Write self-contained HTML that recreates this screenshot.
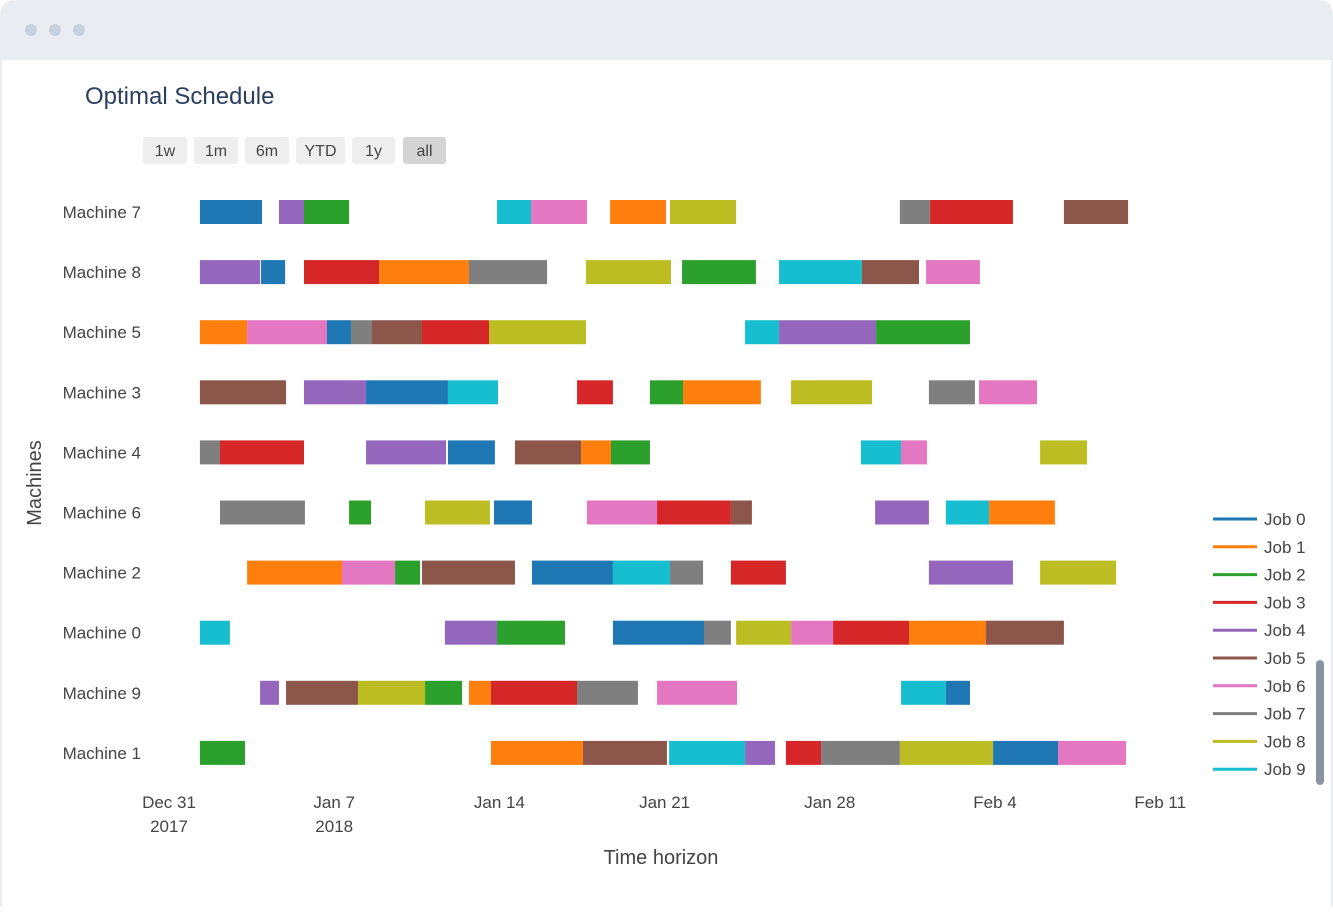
<!DOCTYPE html>
<html><head><meta charset="utf-8"><style>
html,body{margin:0;padding:0;background:#fff;}
body{width:1333px;height:907px;overflow:hidden;position:relative;font-family:"Liberation Sans",sans-serif;}
svg text{font-family:"Liberation Sans",sans-serif;}
</style></head><body>
<svg id="chart" width="1333" height="907">
  <rect x="0" y="0" width="1333" height="907" fill="#ffffff"/>
  <path d="M0,60 L0,16 Q0,0 16,0 L1317,0 Q1333,0 1333,16 L1333,60 Z" fill="#e9ecf1"/>
  <line x1="1" y1="60" x2="1" y2="907" stroke="#e9ecf1" stroke-width="2"/>
  <line x1="1332" y1="60" x2="1332" y2="907" stroke="#e9ecf1" stroke-width="2"/>
  <circle cx="31" cy="30" r="6" fill="#c8d1de"/>
  <circle cx="55" cy="30" r="6" fill="#c8d1de"/>
  <circle cx="79" cy="30" r="6" fill="#c8d1de"/>
  <rect x="1316" y="660" width="8" height="125" rx="4" fill="#8a93a6"/>
  <text x="85" y="104" font-size="24" fill="#2a3f5f">Optimal Schedule</text>
  <g id="buttons"></g>
  <g id="bars"></g>
  <g id="ylabels"></g>
  <g id="xlabels"></g>
  <text x="41" y="483" font-size="20" fill="#444" text-anchor="middle" transform="rotate(-90 41 483)">Machines</text>
  <text x="661" y="864" font-size="20" fill="#444" text-anchor="middle">Time horizon</text>
  <g id="legend"></g>
</svg>
<script>
const machines = ["Machine 7","Machine 8","Machine 5","Machine 3","Machine 4","Machine 6","Machine 2","Machine 0","Machine 9","Machine 1"];
const jobs = ["Job 0","Job 1","Job 2","Job 3","Job 4","Job 5","Job 6","Job 7","Job 8","Job 9"];
const jobColors = ["#1f77b4","#ff7f0e","#2ca02c","#d62728","#9467bd","#8c564b","#e377c2","#7f7f7f","#bcbd22","#17becf"];
const tickDays = [0,7,14,21,28,35,42];
const tickLabels = [["Dec 31","2017"],["Jan 7","2018"],["Jan 14"],["Jan 21"],["Jan 28"],["Feb 4"],["Feb 11"]];
const buttonLabels = ["1w","1m","6m","YTD","1y","all"];
// tasks: machine index (row), job, start day, end day (days since Dec 31 2017)
const taskMachine = [
0,0,0,0,0,0,0,0,0,0,
1,1,1,1,1,1,1,1,1,1,
2,2,2,2,2,2,2,2,2,2,
3,3,3,3,3,3,3,3,3,3,
4,4,4,4,4,4,4,4,4,4,
5,5,5,5,5,5,5,5,5,5,
6,6,6,6,6,6,6,6,6,6,
7,7,7,7,7,7,7,7,7,7,
8,8,8,8,8,8,8,8,8,8,
9,9,9,9,9,9,9,9,9,9];
const taskJob = [
0,4,2,9,6,1,8,7,3,5,
4,0,3,1,7,8,2,9,5,6,
1,6,0,7,5,3,8,9,4,2,
5,4,0,9,3,2,1,8,7,6,
7,3,4,0,5,1,2,9,6,8,
7,2,8,0,6,3,5,4,9,1,
1,6,2,5,0,9,7,3,4,8,
9,4,2,0,7,8,6,3,1,5,
4,5,8,2,1,3,7,6,9,0,
2,1,5,9,4,3,7,8,0,6];
const taskStart = [
1.31,4.66,5.72,13.90,15.34,18.69,21.23,30.97,32.25,37.92,
1.31,3.90,5.72,8.90,12.71,17.67,21.74,25.85,29.36,32.08,
1.31,3.31,6.69,7.71,8.60,10.72,13.56,24.41,25.85,29.96,
1.31,5.72,8.35,11.82,17.29,20.38,21.78,26.36,32.20,34.32,
1.31,2.16,8.35,11.82,14.66,17.46,18.73,29.32,31.02,36.91,
2.16,7.63,10.85,13.77,17.71,20.68,23.81,29.92,32.92,34.75,
3.31,7.33,9.58,10.72,15.38,18.81,21.23,23.81,32.20,36.91,
1.31,11.69,13.90,18.81,22.67,24.03,26.36,28.14,31.36,34.62,
3.86,4.96,8.01,10.85,12.71,13.64,17.29,20.68,31.02,32.92,
1.31,13.64,17.54,21.19,24.41,26.14,27.63,30.97,34.92,37.67];
const taskEnd = [
3.94,5.72,7.63,15.34,17.71,21.06,24.03,32.25,35.76,40.64,
3.86,4.92,8.90,12.71,16.02,21.27,24.87,29.36,31.78,34.36,
3.31,6.69,7.71,8.60,10.72,13.56,17.67,25.85,29.96,33.94,
4.96,8.35,11.82,13.94,18.81,21.78,25.08,29.79,34.15,36.78,
2.16,5.72,11.74,13.81,17.46,18.73,20.38,31.02,32.12,38.90,
5.76,8.56,13.60,15.38,20.68,23.81,24.70,32.20,34.75,37.54,
7.33,9.58,10.64,14.66,18.81,21.23,22.63,26.14,35.76,40.13,
2.58,13.90,16.78,22.67,23.81,26.36,28.14,31.36,34.62,37.92,
4.66,8.01,10.85,12.42,13.64,17.29,19.87,24.07,32.92,33.94,
3.22,17.54,21.10,24.41,25.68,27.63,30.97,34.92,37.67,40.55];

const NS = "http://www.w3.org/2000/svg";
function mk(tag, attrs, parent){const e=document.createElementNS(NS,tag);for(const k in attrs)e.setAttribute(k,attrs[k]);parent.appendChild(e);return e;}
// axes
const x0px = 169, pxPerDay = 23.6;
function xScale(d){return x0px + d*pxPerDay;}
const rowTop = 212, rowStep = 60.1;
function yScale(i){return rowTop + i*rowStep;}
const barH = 24;

// buttons
const btnX = [143,194,245,296,352,403], btnW = [44,44,44,49,43,43];
const bg = document.getElementById('buttons');
buttonLabels.forEach((lab,i)=>{
  const r = mk('rect',{x:btnX[i],y:137,width:btnW[i],height:27,rx:3,fill:i===5?'#d4d4d4':'#eeeeee'},bg);
  
  
  const t = mk('text',{x:btnX[i]+btnW[i]/2,y:156,'font-size':16,fill:'#444','text-anchor':'middle'},bg);
  t.textContent = lab;
  
  
});

// bars
const gb = document.getElementById('bars');
for(let i=0;i<taskJob.length;i++){
  const xs = xScale(taskStart[i]), xe = xScale(taskEnd[i]);
  const r = mk('rect',{x:xs,y:yScale(taskMachine[i])-barH/2,width:Math.max(0,xe-xs),height:barH,fill:jobColors[taskJob[i]]},gb);
  
  
}

// y labels
const gy = document.getElementById('ylabels');
machines.forEach((m,i)=>{
  const t = mk('text',{x:141,y:yScale(i)+6,'font-size':17,fill:'#444','text-anchor':'end'},gy);
  t.textContent = m;
  
  
});

// x labels
const gx = document.getElementById('xlabels');
tickDays.forEach((d,i)=>{
  tickLabels[i].forEach((line,j)=>{
    const t = mk('text',{x:xScale(d),y:808+j*24,'font-size':17,fill:'#444','text-anchor':'middle'},gx);
    t.textContent = line;
    
    
  });
});

// legend
const gl = document.getElementById('legend');
jobs.forEach((j,i)=>{
  const y = 519 + i*27.8;
  const l = mk('line',{x1:1213,x2:1257,y1:y,y2:y,stroke:jobColors[i],'stroke-width':3},gl);
  
  
  const t = mk('text',{x:1264,y:y+6,'font-size':17,fill:'#444'},gl);
  t.textContent = j;
  
  
});
</script>
</body></html>
